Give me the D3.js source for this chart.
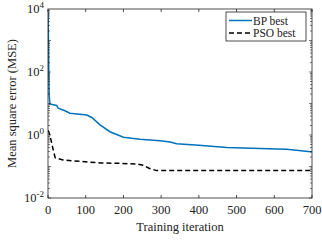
<!DOCTYPE html>
<html>
<head>
<meta charset="utf-8">
<script src="https://cdn.jsdelivr.net/npm/d3@7"></script>
<style>
  body { margin: 0; background: #fff; }
  text { font-family: "Liberation Serif", "DejaVu Serif", serif; fill: #222; }
</style>
</head>
<body>
<script>
// iteration / MSE pairs
var bpIter = [0, 1, 2, 3, 5, 8, 23, 27, 45, 58, 103, 116, 138, 164, 200, 244, 297, 324, 341, 400, 474, 562, 633, 690, 700];
var bpMse  = [8000, 1500, 150, 20, 9.5, 9.4, 8.7, 7.1, 5.9, 4.9, 4.3, 3.6, 2.1, 1.27, 0.85, 0.73, 0.66, 0.60, 0.53, 0.47, 0.40, 0.37, 0.355, 0.30, 0.29];

var psoIter = [0, 3, 8, 14, 19, 40, 138, 191, 235, 252, 268, 288, 700];
var psoMse  = [1.4, 1.18, 0.69, 0.33, 0.19, 0.16, 0.13, 0.126, 0.12, 0.11, 0.088, 0.074, 0.074];

var xTicks = [0, 100, 200, 300, 400, 500, 600, 700];
var yTicks = [-2, 0, 2, 4];   // exponents of 10

var seriesNames = ["BP best", "PSO best"];

window.onload = function() {
  var width = 322, height = 240;
  var left = 48, right = 312, top = 9, bottom = 198;
  var fontSize = 12.5;

  var svg = d3.select("body").append("svg")
              .attr("width", width)
              .attr("height", height);

  var xScale = d3.scaleLinear().domain([0, 700]).range([left, right]);
  var yScale = d3.scaleLog().domain([1e-2, 1e4]).range([bottom, top]);

  // clip so the lines stay in the box
  svg.append("clipPath").attr("id", "clip")
     .append("rect").attr("x", left).attr("y", top)
     .attr("width", right - left).attr("height", bottom - top);

  var line = d3.line()
               .x(function(d) { return xScale(d[0]); })
               .y(function(d) { return yScale(d[1]); });

  var bpData = bpIter.map(function(v, i) { return [v, bpMse[i]]; });
  var psoData = psoIter.map(function(v, i) { return [v, psoMse[i]]; });

  svg.append("path")
     .datum(psoData)
     .attr("clip-path", "url(#clip)")
     .attr("d", line)
     .attr("fill", "none")
     .attr("stroke", "#000")
     .attr("stroke-width", 1.5)
     .attr("stroke-dasharray", "5,3");

  svg.append("path")
     .datum(bpData)
     .attr("clip-path", "url(#clip)")
     .attr("d", line)
     .attr("fill", "none")
     .attr("stroke", "#0072BD")
     .attr("stroke-width", 1.5);

  // x ticks, inside, bottom and top
  var tickLen = 3;
  xTicks.forEach(function(t) {
    var x = xScale(t);
    svg.append("line").attr("x1", x).attr("x2", x)
       .attr("y1", bottom).attr("y2", bottom - tickLen)
       .attr("stroke", "#222").attr("stroke-width", 0.8);
    svg.append("line").attr("x1", x).attr("x2", x)
       .attr("y1", top).attr("y2", top + tickLen)
       .attr("stroke", "#222").attr("stroke-width", 0.8);
    svg.append("text")
       .attr("x", x).attr("y", bottom + 16)
       .attr("text-anchor", "middle")
       .attr("font-size", fontSize)
       .text(t);
  });

  // y ticks: majors and log minors, left and right
  for (var e = -2; e < 4; e++) {
    for (var m = 1; m < 10; m++) {
      var y = yScale(m * Math.pow(10, e));
      var len = m == 1 ? tickLen : 2;
      svg.append("line").attr("x1", left).attr("x2", left + len)
         .attr("y1", y).attr("y2", y)
         .attr("stroke", "#222").attr("stroke-width", 0.6);
      svg.append("line").attr("x1", right).attr("x2", right - len)
         .attr("y1", y).attr("y2", y)
         .attr("stroke", "#222").attr("stroke-width", 0.6);
    }
  }

  yTicks.forEach(function(t) {
    var y = yScale(Math.pow(10, t));
    var label = svg.append("text")
                   .attr("x", left - 4).attr("y", y + 4)
                   .attr("text-anchor", "end")
                   .attr("font-size", fontSize);
    label.append("tspan").text("10");
    label.append("tspan").attr("dy", -5).attr("font-size", 9).text(t);
  });

  // axes box
  svg.append("rect")
     .attr("x", left).attr("y", top)
     .attr("width", right - left).attr("height", bottom - top)
     .attr("fill", "none").attr("stroke", "#222").attr("stroke-width", 0.8);

  // axis titles
  svg.append("text")
     .attr("x", (left + right) / 2).attr("y", 231)
     .attr("text-anchor", "middle")
     .attr("font-size", fontSize)
     .text("Training iteration");

  svg.append("text")
     .attr("transform", "translate(16," + ((top + bottom) / 2) + ") rotate(-90)")
     .attr("text-anchor", "middle")
     .attr("font-size", fontSize)
     .text("Mean square error (MSE)");

  // legend
  var lx = 226, ly = 12;
  svg.append("rect")
     .attr("x", lx).attr("y", ly)
     .attr("width", 80).attr("height", 29)
     .attr("fill", "#fff").attr("stroke", "#222").attr("stroke-width", 0.8);

  var legend = svg.selectAll(".legend")
                  .data(seriesNames)
                  .enter()
                  .append("g")
                  .attr("class", "legend")
                  .attr("transform", function(d, i) {
                    return "translate(0," + i * 12.5 + ")";
                  });

  legend.append("line")
        .attr("x1", lx + 3).attr("x2", lx + 26)
        .attr("y1", ly + 8.5).attr("y2", ly + 8.5)
        .attr("stroke", function(d, i) { return i == 0 ? "#0072BD" : "#000"; })
        .attr("stroke-width", 1.5)
        .attr("stroke-dasharray", function(d, i) { return i == 0 ? null : "5,3"; });

  legend.append("text")
        .attr("x", lx + 27).attr("y", ly + 12.5)
        .attr("font-size", 11.5)
        .text(function(d) { return d; });
};
</script>
</body>
</html>
